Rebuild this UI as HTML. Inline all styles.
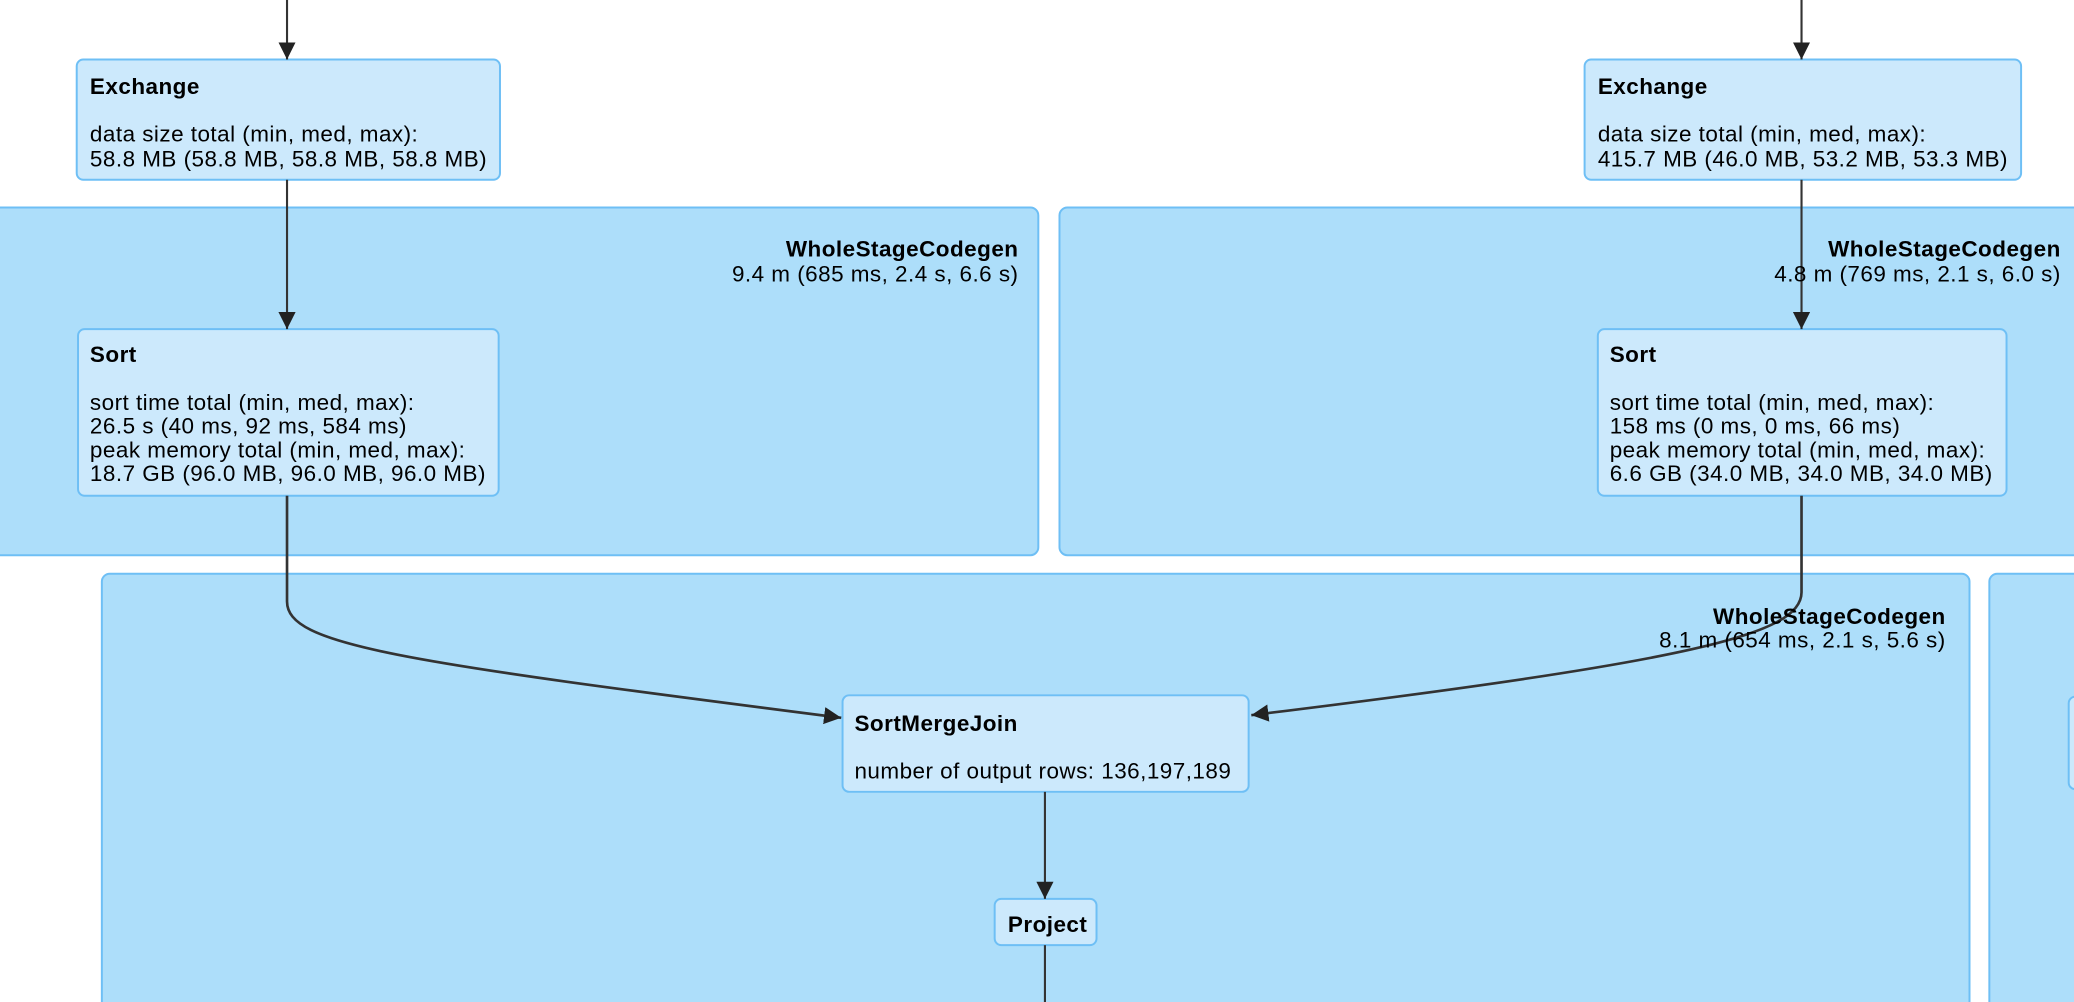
<!DOCTYPE html>
<html><head><meta charset="utf-8"><style>
html,body{margin:0;padding:0;background:#fff;width:2074px;height:1002px;overflow:hidden}
svg{display:block}
text{font-family:"Liberation Sans",Arial,sans-serif;font-size:17px;letter-spacing:0.35px;fill:#000}
.b{font-weight:bold}
</style></head><body>
<svg width="2074" height="1002" viewBox="0 0 1568 758" preserveAspectRatio="none">
<defs><marker id="a" viewBox="0 0 10 10" refX="10" refY="5" markerWidth="13" markerHeight="13" markerUnits="userSpaceOnUse" orient="auto"><path d="M0,0L10,5L0,10z" fill="#222"/></marker></defs>
<g fill="#addefa" stroke="#6ebff5" stroke-width="1.5">
<rect x="-6" y="157" width="791" height="263" rx="6"/>
<rect x="801" y="157" width="790" height="263" rx="6"/>
<rect x="77" y="434" width="1412" height="340" rx="6"/>
<rect x="1504" y="434" width="100" height="340" rx="6"/>
</g>
<g fill="#cce9fc" stroke="#6ebff5" stroke-width="1.5">
<rect x="58" y="45" width="320" height="91" rx="5"/>
<rect x="1198" y="45" width="330" height="91" rx="5"/>
<rect x="59" y="249" width="318" height="126" rx="5"/>
<rect x="1208" y="249" width="309" height="126" rx="5"/>
<rect x="637" y="526" width="307" height="73" rx="5"/>
<rect x="752" y="680" width="77" height="35" rx="5"/>
<rect x="1564" y="527" width="60" height="70" rx="5"/>
</g>
<g fill="none" stroke="#333" stroke-width="1.6">
<path d="M217,0V45" marker-end="url(#a)"/>
<path d="M1362,0V45" marker-end="url(#a)"/>
<path d="M217,136V249" marker-end="url(#a)"/>
<path d="M1362,136V249" marker-end="url(#a)"/>
<path d="M217,375V455C217,488 300,500 636,543" stroke-width="2" marker-end="url(#a)"/>
<path d="M1362,375V448C1362,480 1280,500 946,541" stroke-width="2" marker-end="url(#a)"/>
<path d="M790,599V680" marker-end="url(#a)"/>
<path d="M790,715V758"/>
</g>
<text x="68" y="71" class="b">Exchange</text>
<text x="68" y="107">data size total (min, med, max):</text>
<text x="68" y="126">58.8 MB (58.8 MB, 58.8 MB, 58.8 MB)</text>
<text x="1208" y="71" class="b">Exchange</text>
<text x="1208" y="107">data size total (min, med, max):</text>
<text x="1208" y="126">415.7 MB (46.0 MB, 53.2 MB, 53.3 MB)</text>
<text x="770" y="194" class="b" text-anchor="end">WholeStageCodegen</text>
<text x="770" y="213" text-anchor="end">9.4 m (685 ms, 2.4 s, 6.6 s)</text>
<text x="1558" y="194" class="b" text-anchor="end">WholeStageCodegen</text>
<text x="1558" y="213" text-anchor="end">4.8 m (769 ms, 2.1 s, 6.0 s)</text>
<text x="68" y="274" class="b">Sort</text>
<text x="68" y="310">sort time total (min, med, max):</text>
<text x="68" y="328">26.5 s (40 ms, 92 ms, 584 ms)</text>
<text x="68" y="346">peak memory total (min, med, max):</text>
<text x="68" y="364">18.7 GB (96.0 MB, 96.0 MB, 96.0 MB)</text>
<text x="1217" y="274" class="b">Sort</text>
<text x="1217" y="310">sort time total (min, med, max):</text>
<text x="1217" y="328">158 ms (0 ms, 0 ms, 66 ms)</text>
<text x="1217" y="346">peak memory total (min, med, max):</text>
<text x="1217" y="364">6.6 GB (34.0 MB, 34.0 MB, 34.0 MB)</text>
<text x="1471" y="472" class="b" text-anchor="end">WholeStageCodegen</text>
<text x="1471" y="490" text-anchor="end">8.1 m (654 ms, 2.1 s, 5.6 s)</text>
<text x="646" y="553" class="b">SortMergeJoin</text>
<text x="646" y="589">number of output rows: 136,197,189</text>
<text x="762" y="705" class="b">Project</text>
</svg>
</body></html>
